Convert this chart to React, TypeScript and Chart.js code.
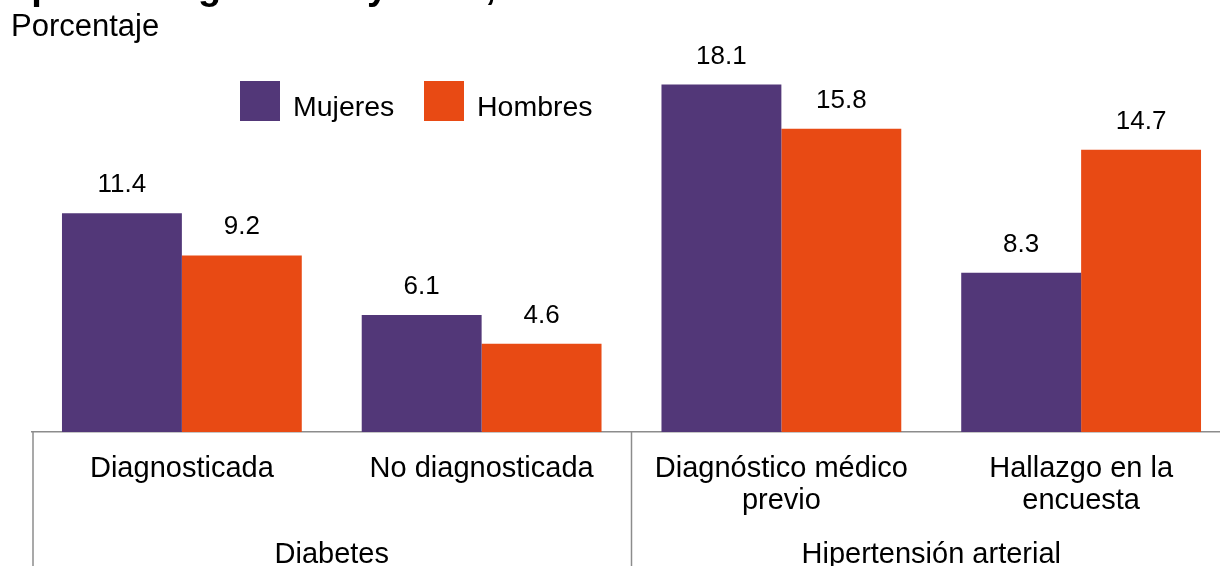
import React, { useEffect, useRef } from "react";
import { Chart, registerables } from "chart.js";

Chart.register(...registerables);

const categories: string[][] = [
  ["Diagnosticada"],
  ["No diagnosticada"],
  ["Diagnóstico médico", "previo"],
  ["Hallazgo en la", "encuesta"],
];
const groupLabels = ["Diabetes", "Hipertensión arterial"];
const groupSpans = [2, 2];
const seriesNames = ["Mujeres", "Hombres"];
const mujeres = [11.4, 6.1, 18.1, 8.3];
const hombres = [9.2, 4.6, 15.8, 14.7];
const titleText = "tipo de diagnóstico y sexo, 2018";
const unitText = "Porcentaje";

const PURPLE = "#523778";
const ORANGE = "#E84A14";
const FONT = "'Liberation Sans', Arial, sans-serif";

const annotate = {
  id: "annotate",
  afterDraw(chart: any) {
    const { ctx, chartArea } = chart;
    const xs = chart.scales.x;
    ctx.save();
    // title (clipped) and unit
    ctx.fillStyle = "#000";
    ctx.textAlign = "left";
    ctx.textBaseline = "alphabetic";
    ctx.font = `bold 38px ${FONT}`;
    ctx.fillText(titleText, 8, -1.5);
    ctx.font = `31px ${FONT}`;
    ctx.fillText(unitText, 11, 36);

    // data labels
    ctx.font = `26px ${FONT}`;
    ctx.textAlign = "center";
    chart.data.datasets.forEach((ds: any, di: number) => {
      const meta = chart.getDatasetMeta(di);
      meta.data.forEach((el: any, i: number) => {
        ctx.fillText(Number(ds.data[i]).toFixed(1), el.x, el.y - 21);
      });
    });

    // legend
    const colors = [PURPLE, ORANGE];
    const lx = [240, 424];
    ctx.font = `28.5px ${FONT}`;
    ctx.textAlign = "left";
    seriesNames.forEach((n, i) => {
      ctx.fillStyle = colors[i];
      ctx.fillRect(lx[i], 81, 40, 40);
      ctx.fillStyle = "#000";
      ctx.fillText(n, lx[i] + 53, 116);
    });

    // group separators and labels
    const n = chart.data.labels.length;
    const cw = (xs.getPixelForValue(n - 1) - xs.getPixelForValue(0)) / (n - 1);
    ctx.strokeStyle = "#8c8c8c";
    ctx.lineWidth = 1.5;
    let start = 0;
    const H = chart.height;
    const drawSep = (x: number) => {
      ctx.beginPath();
      ctx.moveTo(x, chartArea.bottom);
      ctx.lineTo(x, H);
      ctx.stroke();
    };
    drawSep(xs.getPixelForValue(0) - cw / 2 + 1);
    ctx.font = `29px ${FONT}`;
    ctx.textAlign = "center";
    ctx.fillStyle = "#000";
    groupLabels.forEach((g, gi) => {
      const end = start + groupSpans[gi] - 1;
      const cx = (xs.getPixelForValue(start) + xs.getPixelForValue(end)) / 2;
      ctx.fillText(g, cx, 563);
      drawSep(xs.getPixelForValue(end) + cw / 2);
      start = end + 1;
    });
    ctx.restore();
  },
};

export default function App() {
  const ref = useRef<HTMLCanvasElement | null>(null);
  useEffect(() => {
    if (!ref.current) return;
    const chart = new Chart(ref.current, {
      type: "bar",
      data: {
        labels: categories as any,
        datasets: [
          { label: seriesNames[0], data: mujeres, backgroundColor: PURPLE, categoryPercentage: 0.8, barPercentage: 1.0 },
          { label: seriesNames[1], data: hombres, backgroundColor: ORANGE, categoryPercentage: 0.8, barPercentage: 1.0 },
        ],
      },
      options: {
        animation: false,
        responsive: false,
        devicePixelRatio: 1,
        layout: { padding: { left: 32, right: 9, top: 49, bottom: 0 } },
        plugins: { legend: { display: false }, tooltip: { enabled: false }, title: { display: false } },
        scales: {
          y: { display: false, min: 0, max: 19.95 },
          x: {
            afterFit: (scale: any) => {
              scale.height = 134;
            },
            grid: { display: false },
            border: { display: true, color: "#8c8c8c", width: 1.5 },
            ticks: {
              color: "#000",
              padding: 13,
              maxRotation: 0,
              autoSkip: false,
              font: { family: FONT, size: 29, lineHeight: 1.103 },
            },
          },
        },
      },
      plugins: [annotate],
    });
    return () => chart.destroy();
  }, []);
  return (
    <div style={{ position: "fixed", left: 0, top: 0, width: 1220, height: 566, overflow: "hidden", background: "#fff" }}>
      <canvas ref={ref} width={1240} height={566} style={{ width: 1240, height: 566, display: "block" }} />
    </div>
  );
}
